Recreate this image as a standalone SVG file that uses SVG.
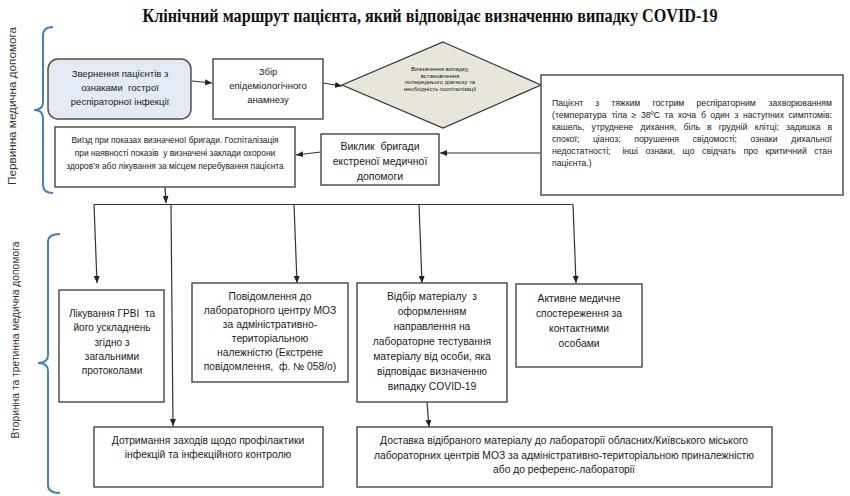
<svg xmlns="http://www.w3.org/2000/svg" width="850" height="496" viewBox="0 0 850 496">
<defs>
<style>
.bx{fill:#fff;stroke:#505050;stroke-width:1.5}
.t{font-family:"Liberation Sans",Arial,sans-serif;fill:#1a1a1a;text-anchor:middle}
.j{font-family:"Liberation Sans",Arial,sans-serif;fill:#1a1a1a;font-size:8.7px}
.je{text-anchor:end}
.c{fill:none;stroke:#333;stroke-width:1.2;marker-end:url(#ah)}
.l{fill:none;stroke:#333;stroke-width:1.2}
.br{fill:none;stroke:#4a7ebb;stroke-width:2}
.side{font-family:"Liberation Sans",Arial,sans-serif;fill:#333;text-anchor:middle}
</style>
<marker id="ah" markerWidth="7" markerHeight="6" refX="7" refY="3" orient="auto" markerUnits="userSpaceOnUse">
<path d="M0,0 L7,3 L0,6 z" fill="#222"/>
</marker>
</defs>
<rect width="850" height="496" fill="#fff"/>

<text x="430" y="22" font-family="Liberation Serif,'Times New Roman',serif" font-weight="bold" font-size="18" text-anchor="middle" textLength="575" lengthAdjust="spacingAndGlyphs" fill="#111">Клінічний маршрут пацієнта, який відповідає визначенню випадку COVID-19</text>

<g id="bracket-primary">
<path class="br" d="M53,27 Q43,27 43,35 L43,102 Q43,110 34,110 Q43,110 43,118 L43,185 Q43,193 53,193"/>
<text class="side" font-size="11.7" transform="translate(16,106) rotate(-90)">Первинна медична допомога</text>
</g>
<g id="bracket-secondary">
<path class="br" d="M60,234 Q48,234 48,242 L48,355 Q48,363 38,363 Q48,363 48,371 L48,485 Q48,493 60,493"/>
<text class="side" font-size="10.3" transform="translate(19,340) rotate(-90)">Вторинна та третинна медична допомога</text>
</g>

<g id="connectors">
<path class="c" d="M192,81 L212,83"/>
<path class="c" d="M323,83 L342,86"/>
<path class="c" d="M541,153 L440,153"/>
<path class="c" d="M321,152 L296,155"/>
<path class="c" d="M165,187 L166,203"/>
<path class="l" d="M94,204.5 L573,204.5"/>
<path class="c" d="M94,204.5 L97,283"/>
<path class="c" d="M171,204.5 L173,426"/>
<path class="c" d="M294,204.5 L297,283"/>
<path class="c" d="M419,204.5 L422,283"/>
<path class="c" d="M573,204.5 L576,283"/>
<path class="c" d="M427,402 L429,427"/>
</g>

<g id="n-zvernennia">
<rect x="48" y="59" width="143" height="60" rx="10" fill="#e3eaf3" stroke="#505050" stroke-width="1.5"/>
<text class="t" font-size="9.5" x="120" y="77">Звернення пацієнтів з</text>
<text class="t" font-size="9.5" x="120" y="91" xml:space="preserve">ознаками  гострої</text>
<text class="t" font-size="9.5" x="120" y="105">респіраторної інфекції</text>
</g>

<g id="n-zbir">
<rect class="bx" x="213" y="59" width="110" height="60"/>
<text class="t" font-size="9.5" x="268" y="74.5">Збір</text>
<text class="t" font-size="9.5" x="268" y="88.5">епідеміологічного</text>
<text class="t" font-size="9.5" x="268" y="102.5">анамнезу</text>
</g>

<g id="n-vyznachennia">
<polygon points="443,42 541,85 443,128 342,85" fill="#e8e5da" stroke="#333" stroke-width="1.2"/>
<text class="t" font-size="6" fill="#333" x="440" y="71">Визначення випадку,</text>
<text class="t" font-size="6" fill="#333" x="440" y="77.5">встановлення</text>
<text class="t" font-size="6" fill="#333" x="440" y="84">попереднього діагнозу та</text>
<text class="t" font-size="6" fill="#333" x="440" y="90.5">необхідність госпіталізації</text>
</g>

<g id="n-patsient">
<rect class="bx" x="541" y="75" width="302" height="120"/>
<text class="j" y="106"><tspan x="552">Пацієнт</tspan><tspan x="595.2">з</tspan><tspan x="611.2">тяжким</tspan><tspan x="652.5">гострим</tspan><tspan x="696.5">респіраторним</tspan></text>
<text class="j je" x="832" y="106">захворюванням</text>
<text class="j" y="118"><tspan x="552">(температура</tspan><tspan x="611.4">тіла</tspan><tspan x="631.6">≥</tspan><tspan x="640.9">38ºС</tspan><tspan x="664.5">та</tspan><tspan x="677.8">хоча</tspan><tspan x="700.9">б</tspan><tspan x="710.3">один</tspan><tspan x="734.4">з</tspan><tspan x="742.9">наступних</tspan></text>
<text class="j je" x="832" y="118">симптомів:</text>
<text class="j" y="130"><tspan x="552">кашель,</tspan><tspan x="591.6">утруднене</tspan><tspan x="640.6">дихання,</tspan><tspan x="683.5">біль</tspan><tspan x="707.1">в</tspan><tspan x="718.7">грудній</tspan><tspan x="754.8">клітці;</tspan><tspan x="786">задишка</tspan></text>
<text class="j je" x="832" y="130">в</text>
<text class="j" y="142"><tspan x="552">спокої;</tspan><tspan x="592.9">ціаноз;</tspan><tspan x="634.3">порушення</tspan><tspan x="692.7">свідомості;</tspan><tspan x="750.5">ознаки</tspan></text>
<text class="j je" x="832" y="142">дихальної</text>
<text class="j" y="154"><tspan x="552">недостатності;</tspan><tspan x="622.4">інші</tspan><tspan x="645.5">ознаки,</tspan><tspan x="682.6">що</tspan><tspan x="702.1">свідчать</tspan><tspan x="743.5">про</tspan><tspan x="765.4">критичний</tspan></text>
<text class="j je" x="832" y="154">стан</text>
<text class="j" x="552" y="166">пацієнта.)</text>
</g>

<g id="n-vyklyk">
<rect class="bx" x="321" y="134" width="118" height="51"/>
<text class="t" font-size="10.5" x="380" y="150" xml:space="preserve">Виклик  бригади</text>
<text class="t" font-size="10.5" x="380" y="165">екстреної медичної</text>
<text class="t" font-size="10.5" x="380" y="180">допомоги</text>
</g>

<g id="n-vyizd">
<rect class="bx" x="55" y="127" width="240" height="60"/>
<text class="t" font-size="8.4" x="175" y="143">Виїзд при показах визначеної бригади. Госпіталізація</text>
<text class="t" font-size="8.4" x="175" y="156" xml:space="preserve">при наявності показів  у визначені заклади охорони</text>
<text class="t" font-size="8.4" x="175" y="169">здоров’я або лікування за місцем перебування пацієнта</text>
</g>

<g id="n-likuvannia">
<rect class="bx" x="59" y="290" width="105" height="112"/>
<text class="t" font-size="10.1" x="112" y="317" xml:space="preserve">Лікування ГРВІ  та</text>
<text class="t" font-size="10.1" x="112" y="331.3">його ускладнень</text>
<text class="t" font-size="10.1" x="112" y="345.6">згідно з</text>
<text class="t" font-size="10.1" x="112" y="359.9">загальними</text>
<text class="t" font-size="10.1" x="112" y="374.2">протоколами</text>
</g>

<g id="n-povidomlennia">
<rect class="bx" x="192" y="283" width="156" height="99"/>
<text class="t" font-size="10.3" x="270" y="300">Повідомлення до</text>
<text class="t" font-size="10.3" x="270" y="314">лабораторного центру МОЗ</text>
<text class="t" font-size="10.3" x="270" y="328">за адміністративно-</text>
<text class="t" font-size="10.3" x="270" y="342">територіальною</text>
<text class="t" font-size="10.3" x="270" y="356">належністю (Екстрене</text>
<text class="t" font-size="10.3" x="270" y="370" xml:space="preserve">повідомлення,  ф. № 058/о)</text>
</g>

<g id="n-vidbir">
<rect class="bx" x="357" y="283" width="150" height="119"/>
<text class="t" font-size="10.3" x="432" y="300" xml:space="preserve">Відбір матеріалу  з</text>
<text class="t" font-size="10.3" x="432" y="315">оформленням</text>
<text class="t" font-size="10.3" x="432" y="330">направлення на</text>
<text class="t" font-size="10.3" x="432" y="345">лабораторне тестування</text>
<text class="t" font-size="10.3" x="432" y="360">матеріалу від особи, яка</text>
<text class="t" font-size="10.3" x="432" y="375">відповідає визначенню</text>
<text class="t" font-size="10.3" x="432" y="390">випадку COVID-19</text>
</g>

<g id="n-aktyvne">
<rect class="bx" x="516" y="284" width="126" height="83"/>
<text class="t" font-size="10.3" x="579" y="302">Активне медичне</text>
<text class="t" font-size="10.3" x="579" y="317">спостереження за</text>
<text class="t" font-size="10.3" x="579" y="332">контактними</text>
<text class="t" font-size="10.3" x="579" y="347">особами</text>
</g>

<g id="n-dotrymannia">
<rect class="bx" x="94" y="427" width="229" height="60"/>
<text class="t" font-size="10.3" x="208" y="444">Дотримання заходів щодо профілактики</text>
<text class="t" font-size="10.3" x="208" y="458">інфекцій та інфекційного контролю</text>
</g>

<g id="n-dostavka">
<rect class="bx" x="357" y="427" width="415" height="60"/>
<text class="t" font-size="10.3" x="564" y="444">Доставка відібраного матеріалу до лабораторії обласних/Київського міського</text>
<text class="t" font-size="10.3" x="564" y="458.5">лабораторних центрів МОЗ за адміністративно-територіальною приналежністю</text>
<text class="t" font-size="10.3" x="564" y="473">або до референс-лабораторії</text>
</g>
</svg>
